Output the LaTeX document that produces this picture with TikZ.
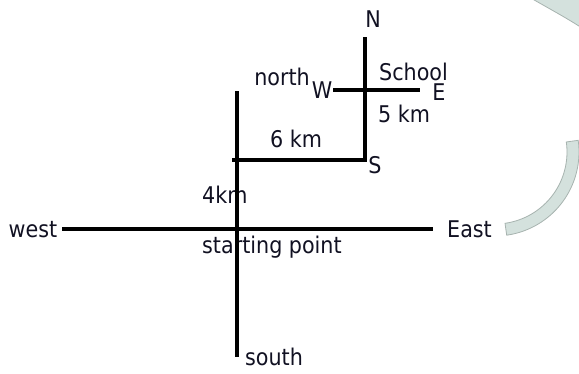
\documentclass[tikz,border=0pt]{standalone}
\usepackage{fontspec}
\setmainfont{DejaVu Sans Condensed}
\definecolor{wmfill}{HTML}{D4E1DD}
\definecolor{wmline}{HTML}{A7B3AF}
\definecolor{ink}{HTML}{111122}
\begin{document}
\begin{tikzpicture}[x=1pt,y=-1pt,
  road/.style={line width=4.5pt, draw=black},
  lbl/.style={inner sep=0pt, font=\fontsize{23}{27}\selectfont, text=ink},
  wm/.style={fill=wmfill, draw=wmline, line width=0.8pt}]
\useasboundingbox (0,0) rectangle (579,373);
\begin{scope}
\clip (0,0) rectangle (579,373);
% watermark ring pieces
\path[wm] plot[domain=-8:82, samples=40] ({495+84*cos(\x)},{152+84*sin(\x)})
  -- plot[domain=82:-8, samples=40] ({495+72*cos(\x)},{152+72*sin(\x)}) -- cycle;
\fill[wmfill] (529,-3) .. controls (548,8) and (565,17) .. (582,28) -- (582,-3) -- cycle;
\draw[wmline, line width=0.8pt] (529,-3) .. controls (548,8) and (565,17) .. (582,28);
\end{scope}
% road coordinates
\coordinate (westend) at (62,229);
\coordinate (eastend) at (433,229);
\coordinate (northend) at (237,91);
\coordinate (southend) at (237,357);
\coordinate (leftend) at (232,160);
\coordinate (corner) at (365,160);
\coordinate (ntop) at (365,37);
\coordinate (wpt) at (333,90);
\coordinate (ept) at (420,90);
\draw[road] (westend) -- (eastend);
\draw[road] (northend) -- (southend);
\draw[road] (leftend) -- (corner) -- (ntop);
\draw[road] (wpt) -- (ept);
% labels
\node[lbl, anchor=base] (lN) at (373,27) {N};
\node[lbl, anchor=base] (lnorth) at (282,85) {north};
\node[lbl, anchor=base] (lW) at (322,98) {W};
\node[lbl, anchor=base] (lschool) at (413.5,80) {School};
\node[lbl, anchor=base] (lE) at (439,100) {E};
\node[lbl, anchor=base] (l5) at (404,122) {5 km};
\node[lbl, anchor=base] (l6) at (296,147) {6 km};
\node[lbl, anchor=base] (lS) at (375,173) {S};
\node[lbl, anchor=base west] (l4) at (202,203) {4km};
\node[lbl, anchor=base] (lwest) at (33,237) {west};
\node[lbl, anchor=base west] (lstart) at (202,253) {starting point};
\node[lbl, anchor=base west] (least) at (447,237) {East};
\node[lbl, anchor=base west] (lsouth) at (245,365) {south};
% redraw main vertical over text, as in the reference
\draw[road] (northend) -- (southend);
\end{tikzpicture}
\end{document}
